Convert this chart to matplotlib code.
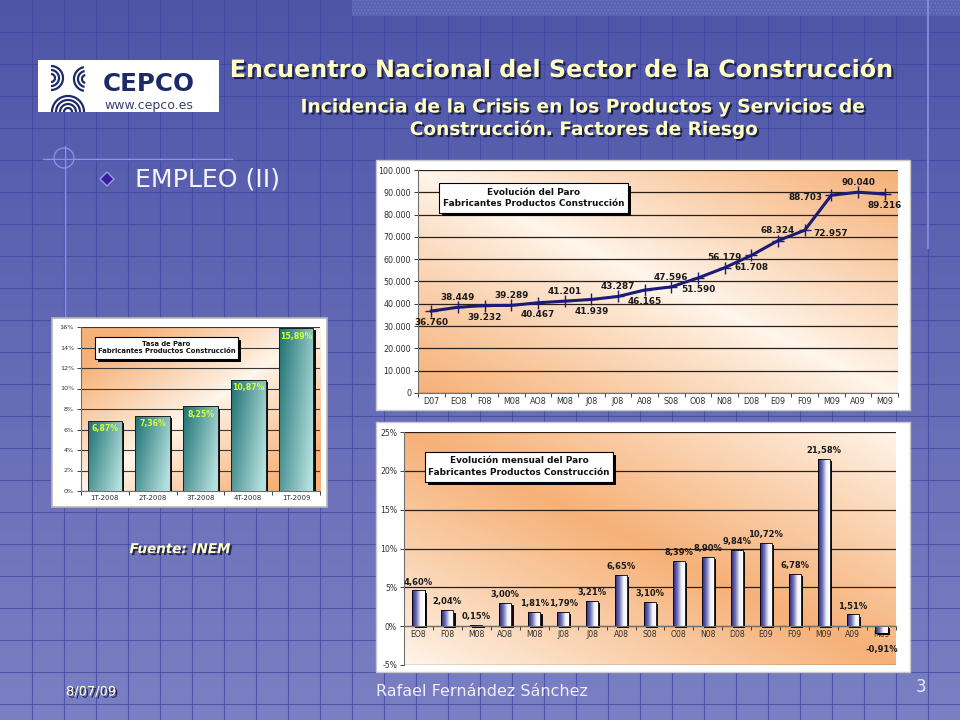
import numpy as np
import matplotlib
matplotlib.use('Agg')
import matplotlib.pyplot as plt
import matplotlib.patheffects as pe
from matplotlib.patches import Rectangle, Polygon, Circle
from matplotlib.colors import LinearSegmentedColormap, to_rgb

# ---------------- data ----------------
paro_meses = ["D07", "EO8", "F08", "M08", "AO8", "M08", "J08", "J08", "A08",
              "S08", "O08", "N08", "D08", "E09", "F09", "M09", "A09", "M09"]
paro_valores = [36760, 38449, 39232, 39289, 40467, 41201, 41939, 43287, 46165,
                47596, 51590, 56179, 61708, 68324, 72957, 88703, 90040, 89216]
paro_pos = ["b", "a", "b", "a", "b", "a", "b", "a", "b",
            "a", "b", "a", "b", "a", "r", "l", "a", "b"]

var_meses = ["EO8", "F08", "M08", "AO8", "M08", "J08", "J08", "A08", "S08",
             "O08", "N08", "D08", "E09", "F09", "M09", "A09", "M09"]
var_valores = [4.60, 2.04, 0.15, 3.00, 1.81, 1.79, 3.21, 6.65, 3.10,
               8.39, 8.90, 9.84, 10.72, 6.78, 21.58, 1.51, -0.91]

tasa_trimestres = ["1T-2008", "2T-2008", "3T-2008", "4T-2008", "1T-2009"]
tasa_valores = [6.87, 7.36, 8.25, 10.87, 15.89]

paro_yticks = list(range(0, 100001, 10000))
var_yticks = list(range(-5, 26, 5))
tasa_yticks = list(range(0, 17, 2))

W, H = 960, 720
fig = plt.figure(figsize=(9.6, 7.2), dpi=100)


def px_rect(x0, y0, x1, y1):
    return [x0 / W, 1 - y1 / H, (x1 - x0) / W, (y1 - y0) / H]


def miles(v):
    return f"{int(v):,}".replace(",", ".")


def pct(v):
    return f"{v:.2f}".replace(".", ",") + "%"


# ---------------- background ----------------
bg = fig.add_axes([0, 0, 1, 1], zorder=-10)
bg.set_xlim(0, W)
bg.set_ylim(H, 0)
bg.axis('off')
g = np.linspace(0, 1, 256)[:, None, None]
ctop = np.array(to_rgb('#4E55A8'))
cbot = np.array(to_rgb('#7B7FC3'))
img = ctop * (1 - g) + cbot * g
bg.imshow(img, extent=(0, W, H, 0), aspect='auto', zorder=0)
for x in range(32, W, 32):
    bg.plot([x, x], [0, H], color='#3C44A0', lw=0.8, alpha=0.7, zorder=1)
for y in range(32, H, 32):
    bg.plot([0, W], [y, y], color='#3C44A0', lw=0.8, alpha=0.7, zorder=1)
bg.add_patch(Rectangle((352, 0), 608, 16, facecolor='#5860B0', edgecolor='#6C74C4',
                       hatch='.....', lw=0, zorder=2))
bg.plot([928, 928], [0, 248], color='#8A92E8', lw=1.2, zorder=3)
# decoration
bg.plot([43, 232], [159, 159], color='#8C94E8', lw=1.0, zorder=3)
bg.plot([65, 65], [146, 318], color='#8C94E8', lw=1.0, zorder=3)
bg.add_patch(Circle((64, 158), 10, fill=False, ec='#8C94E8', lw=0.9, zorder=3))
bg.add_patch(Polygon([(107, 172), (114, 179), (107, 186), (100, 179)], closed=True,
                     fc='#3A1E9E', ec='#9A9AE6', lw=1.0, zorder=3))
# logo
logo_box = Rectangle((38, 60), 181, 52, fc='white', ec='none', zorder=3)
bg.add_patch(logo_box)
navy = '#1C2A66'


def arc_line(cx, cy, r, a0, a1):
    tt = np.radians(np.linspace(a0, a1, 60))
    ln, = bg.plot(cx + r * np.cos(tt), cy - r * np.sin(tt), color=navy, lw=1.6,
                  solid_capstyle='butt', zorder=4)
    ln.set_clip_path(logo_box)


for r in (4, 8, 12, 16):
    arc_line(68, 112, r, 0, 180)
for r in (4, 8, 12):
    arc_line(51, 78, r, -90, 90)
    arc_line(86, 79, r, 100, 260)

# chart frames
bg.add_patch(Rectangle((376, 160), 534, 250, fc='white', ec='#C8C8C8', lw=1, zorder=5))
bg.add_patch(Rectangle((376, 422), 534, 250, fc='white', ec='#C8C8C8', lw=1, zorder=5))
bg.add_patch(Rectangle((52, 318), 275, 189, fc='white', ec='#B8B8B8', lw=1.2, zorder=5))


def grad_bg(ax, kind):
    n = 200
    X, Y = np.meshgrid(np.linspace(0, 1, n), np.linspace(0, 1, n))
    if kind == 'a':
        t = np.abs(X + Y - 1)
    elif kind == 'b':
        t = 1 - np.abs(X + Y - 1)
    else:
        t = np.abs(X - Y) * 1.3
    t = np.clip(t, 0, 1) ** 0.9
    light = np.array(to_rgb('#FFF6EC'))
    orange = np.array(to_rgb('#F6B178'))
    rgb = light * (1 - t[..., None]) + orange * t[..., None]
    ax.imshow(rgb, extent=(0, 1, 0, 1), transform=ax.transAxes, origin='lower',
              aspect='auto', zorder=0, interpolation='bilinear')


def style_axes(ax, lsize):
    for s in ('top', 'right'):
        ax.spines[s].set_visible(False)
    for s in ('left', 'bottom'):
        ax.spines[s].set_color('#707070')
        ax.spines[s].set_linewidth(0.8)
    ax.tick_params(axis='both', which='both', labelsize=lsize, colors='#404040',
                   labelcolor='#303030', width=0.7)
    ax.tick_params(axis='x', which='major', length=0, pad=3)
    ax.tick_params(axis='x', which='minor', length=3)
    ax.tick_params(axis='y', length=3, pad=2)


# ---------------- chart 1: line ----------------
ax1 = fig.add_axes(px_rect(418, 170, 898, 393), zorder=1)
grad_bg(ax1, 'a')
xs1 = np.arange(len(paro_valores))
ax1.plot(xs1, paro_valores, color='#1B1B78', lw=2.2, marker='+', ms=8, mew=1.0, zorder=4)
ax1.set_xlim(-0.5, len(paro_valores) - 0.5)
ax1.set_ylim(0, 100000)
ax1.set_yticks(paro_yticks)
ax1.set_yticklabels([miles(v) for v in paro_yticks])
ax1.set_xticks(xs1)
ax1.set_xticklabels(paro_meses)
ax1.set_xticks(np.arange(-0.5, len(paro_valores), 1), minor=True)
ax1.yaxis.grid(True, color='#2A2018', lw=0.9)
style_axes(ax1, 5.8)
offs = {'a': ((0, 7), 'center'), 'b': ((0, -8.5), 'center'),
        'r': ((6, -2), 'left'), 'l': ((-6, -2), 'right')}
for x, v, p in zip(xs1, paro_valores, paro_pos):
    (dx, dy), ha = offs[p]
    ax1.annotate(miles(v), (x, v), xytext=(dx, dy), textcoords='offset points',
                 ha=ha, va='center', fontsize=6.4, fontweight='bold', color='#1A1A1A', zorder=6)
ax1.set_xlim(-0.5, len(paro_valores) - 0.5)
ax1.set_ylim(0, 100000)

# ---------------- chart 2: bars ----------------
ax2 = fig.add_axes(px_rect(404, 432, 896, 665), zorder=1)
grad_bg(ax2, 'b')
xs2 = np.arange(len(var_valores))
shadow = [pe.SimplePatchShadow(offset=(1.6, -1.6), shadow_rgbFace='black', alpha=0.95), pe.Normal()]
bars2 = ax2.bar(xs2, var_valores, width=0.42, color='#2A2A80', ec='black', lw=0.6,
                zorder=3, path_effects=shadow)
cmap2 = LinearSegmentedColormap.from_list('b', ['#23237A', '#6E70B4', '#F4F4FA', '#FFFFFF'])
for b in bars2:
    x0, y0, w, h = b.get_x(), b.get_y(), b.get_width(), b.get_height()
    im = ax2.imshow(np.linspace(0, 1, 64)[None, :], cmap=cmap2, extent=[x0, x0 + w, y0, y0 + h],
                    aspect='auto', zorder=3.5, interpolation='bilinear')
    im.set_clip_path(b)
ax2.bar(xs2, var_valores, width=0.42, fill=False, ec='black', lw=0.6, zorder=4)
ax2.set_xlim(-0.5, len(var_valores) - 0.5)
ax2.set_ylim(-5, 25)
ax2.set_yticks(var_yticks)
ax2.set_yticklabels([f"{v}%" for v in var_yticks])
ax2.set_xticks(xs2)
ax2.set_xticklabels(var_meses)
ax2.set_xticks(np.arange(-0.5, len(var_valores), 1), minor=True)
ax2.yaxis.grid(True, color='#2A2018', lw=0.9)
style_axes(ax2, 5.6)
ax2.spines['bottom'].set_position(('data', 0))
ax2.spines['bottom'].set_zorder(5)
for x, v in zip(xs2, var_valores):
    ax2.annotate(pct(v), (x, v), xytext=(0, 6 if v >= 0 else -12), textcoords='offset points',
                 ha='center', va='center', fontsize=6.0, fontweight='bold', color='#1A1A1A', zorder=6)
ax2.set_xlim(-0.5, len(var_valores) - 0.5)
ax2.set_ylim(-5, 25)

# ---------------- chart 3: small bars ----------------
ax3 = fig.add_axes(px_rect(81, 327, 320, 491), zorder=1)
grad_bg(ax3, 'c')
xs3 = np.arange(len(tasa_valores))
bars3 = ax3.bar(xs3, tasa_valores, width=0.72, color='#1F7677', ec='#202020', lw=0.7,
                zorder=3, path_effects=shadow)
X3, Y3 = np.meshgrid(np.linspace(0, 1, 64), np.linspace(0, 1, 64))
t3 = np.clip(0.75 * X3 + 0.35 * (1 - Y3), 0, 1)
c_dark = np.array(to_rgb('#1D7072'))
c_light = np.array(to_rgb('#B4E0DE'))
rgb3 = c_dark * (1 - t3[..., None]) + c_light * t3[..., None]
for b in bars3:
    x0, y0, w, h = b.get_x(), b.get_y(), b.get_width(), b.get_height()
    im = ax3.imshow(rgb3, extent=[x0, x0 + w, y0, y0 + h], origin='lower',
                    aspect='auto', zorder=3.5, interpolation='bilinear')
    im.set_clip_path(b)
ax3.bar(xs3, tasa_valores, width=0.72, fill=False, ec='#202020', lw=0.7, zorder=4)
ax3.set_xlim(-0.5, len(tasa_valores) - 0.5)
ax3.set_ylim(0, 16)
ax3.set_yticks(tasa_yticks)
ax3.set_yticklabels([f"{v}%" for v in tasa_yticks])
ax3.set_xticks(xs3)
ax3.set_xticklabels(tasa_trimestres)
ax3.set_xticks(np.arange(-0.5, len(tasa_valores), 1), minor=True)
ax3.yaxis.grid(True, color='#3A3A3A', lw=0.8)
style_axes(ax3, 4.6)
ax3.tick_params(axis='x', which='major', labelsize=5.0)
for x, v in zip(xs3, tasa_valores):
    ax3.annotate(pct(v), (x, v), xytext=(0, -2.5), textcoords='offset points',
                 ha='center', va='top', fontsize=5.6, fontweight='bold', color='#D4FF3A', zorder=6)
ax3.set_xlim(-0.5, len(tasa_valores) - 0.5)
ax3.set_ylim(0, 16)

# ---------------- overlay texts ----------------
ov = fig.add_axes([0, 0, 1, 1], zorder=20)
ov.set_xlim(0, W)
ov.set_ylim(H, 0)
ov.axis('off')
ov.patch.set_alpha(0)
renderer = fig.canvas.get_renderer()


def fit(t, target):
    for _ in range(3):
        w = t.get_window_extent(renderer).width
        t.set_fontsize(t.get_fontsize() * target / w)
    return t


box_shadow = [pe.SimplePatchShadow(offset=(2, -2), shadow_rgbFace='black', alpha=1.0), pe.Normal()]
for (bx, by, bw, bh) in [(439, 183, 189, 30), (425, 452, 188, 30), (95, 337, 143, 22)]:
    ov.add_patch(Rectangle((bx, by), bw, bh, fc='white', ec='black', lw=0.8,
                           path_effects=box_shadow, zorder=2))
ov.text(533.5, 198, "Evolución del Paro\nFabricantes Productos Construcción", ha='center',
        va='center', fontsize=6.4, fontweight='bold', color='#111111', linespacing=1.3, zorder=3)
ov.text(519, 466.5, "Evolución mensual del Paro\nFabricantes Productos Construcción", ha='center',
        va='center', fontsize=6.4, fontweight='bold', color='#111111', linespacing=1.3, zorder=3)
ov.text(166.5, 347.5, "Tasa de Paro\nFabricantes Productos Construcción", ha='center',
        va='center', fontsize=4.9, fontweight='bold', color='#111111', linespacing=1.3, zorder=3)

tshadow = [pe.SimplePatchShadow(offset=(1.5, -1.5), shadow_rgbFace='#15183A', alpha=0.85), pe.Normal()]
yellow = '#FFFFC4'
t = ov.text(562, 70, "Encuentro Nacional del Sector de la Construcción", ha='center', va='center',
            fontsize=15, fontweight='bold', color=yellow, path_effects=tshadow)
fit(t, 661)
t = ov.text(583, 107, "Incidencia de la Crisis en los Productos y Servicios de", ha='center',
            va='center', fontsize=12, fontweight='bold', color=yellow, path_effects=tshadow)
fit(t, 562)
t = ov.text(583, 129, "Construcción. Factores de Riesgo", ha='center', va='center',
            fontsize=12, fontweight='bold', color=yellow, path_effects=tshadow)
fit(t, 348)

t = ov.text(149, 84, "CEPCO", ha='center', va='center', fontsize=16, fontweight='bold', color=navy)
fit(t, 92)
t = ov.text(149, 106, "www.cepco.es", ha='center', va='center', fontsize=7, color='#3A4070')
fit(t, 88)

t = ov.text(135, 180, "EMPLEO (II)", ha='left', va='center', fontsize=15, color='#F4F4FF')
fit(t, 145)

t = ov.text(180, 549, "Fuente: INEM", ha='center', va='center', fontsize=8, fontweight='bold',
            fontstyle='italic', color=yellow, path_effects=tshadow)
fit(t, 101)

t = ov.text(91, 692, "8/07/09", ha='center', va='center', fontsize=8, color='#FFFFE0',
            path_effects=tshadow)
fit(t, 50)
t = ov.text(482, 692, "Rafael Fernández Sánchez", ha='center', va='center', fontsize=12,
            color='#EEEEFF')
fit(t, 211)
ov.text(921, 687, "3", ha='center', va='center', fontsize=12, color='#E8E8FF')

fig.savefig('out.png', dpi=100)
